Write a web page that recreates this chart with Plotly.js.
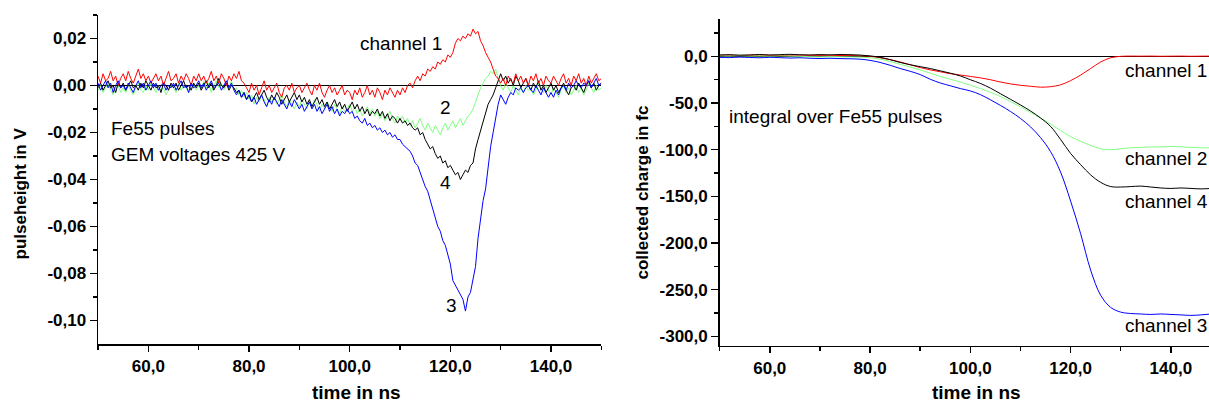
<!DOCTYPE html>
<html>
<head>
<meta charset="utf-8">
<script src="https://cdn.plot.ly/plotly-3.0.1.min.js"></script>
<style>
html,body{margin:0;padding:0;overflow:hidden;background:#fff;}
#chart{width:1221px;height:405px;}
</style>
</head>
<body>
<div id="chart"></div>
<script>
// ---------- Left panel: pulse height (V) vs time (ns), 0.5 ns sampling ----------
const timeLeft = [50,50.5,51,51.5,52,52.5,53,53.5,54,54.5,55,55.5,56,56.5,57,57.5,58,58.5,59,59.5,
  60,60.5,61,61.5,62,62.5,63,63.5,64,64.5,65,65.5,66,66.5,67,67.5,68,68.5,69,69.5,
  70,70.5,71,71.5,72,72.5,73,73.5,74,74.5,75,75.5,76,76.5,77,77.5,78,78.5,79,79.5,
  80,80.5,81,81.5,82,82.5,83,83.5,84,84.5,85,85.5,86,86.5,87,87.5,88,88.5,89,89.5,
  90,90.5,91,91.5,92,92.5,93,93.5,94,94.5,95,95.5,96,96.5,97,97.5,98,98.5,99,99.5,
  100,100.5,101,101.5,102,102.5,103,103.5,104,104.5,105,105.5,106,106.5,107,107.5,108,108.5,109,109.5,
  110,110.5,111,111.5,112,112.5,113,113.5,114,114.5,115,115.5,116,116.5,117,117.5,118,118.5,119,119.5,
  120,120.5,121,121.5,122,122.5,123,123.5,124,124.5,125,125.5,126,126.5,127,127.5,128,128.5,129,129.5,
  130,130.5,131,131.5,132,132.5,133,133.5,134,134.5,135,135.5,136,136.5,137,137.5,138,138.5,139,139.5,
  140,140.5,141,141.5,142,142.5,143,143.5,144,144.5,145,145.5,146,146.5,147,147.5,148,148.5,149,149.5,
  150];

const pulseCh1 = [
  0.004,0.001,0.005,0.002,0.003,0.006,0.002,0.004,0.000,0.003,
  0.005,0.002,0.006,0.003,0.001,0.004,0.007,0.003,0.005,0.002,
  0.004,0.001,0.003,0.005,0.002,0.004,0.000,0.003,0.006,0.002,
  0.003,0.005,0.001,0.004,0.002,0.005,0.003,0.000,0.004,0.002,
  0.005,0.002,0.004,0.001,0.003,0.006,0.002,0.004,0.001,0.005,
  0.003,0.000,0.004,0.002,0.005,0.003,0.006,0.002,0.001,-0.001,
  -0.003,0.001,-0.002,0.000,-0.004,-0.001,0.002,-0.002,0.000,-0.003,
  -0.001,0.001,-0.003,-0.005,-0.001,0.000,-0.002,0.001,-0.003,-0.001,
  0.000,-0.003,-0.001,0.001,-0.002,-0.004,0.000,-0.002,0.001,-0.003,
  -0.005,-0.002,0.000,-0.003,-0.001,-0.004,-0.002,0.000,-0.004,-0.002,
  -0.003,-0.006,-0.002,-0.004,-0.001,-0.005,-0.003,0.000,-0.004,-0.002,
  -0.005,-0.001,-0.003,-0.006,-0.002,-0.004,-0.001,-0.003,-0.005,-0.002,
  -0.004,-0.001,-0.003,0.000,0.001,-0.001,0.002,0.004,0.002,0.005,
  0.004,0.007,0.006,0.008,0.007,0.010,0.009,0.011,0.010,0.013,
  0.012,0.014,0.018,0.020,0.019,0.021,0.020,0.022,0.021,0.024,
  0.022,0.023,0.019,0.017,0.014,0.012,0.010,0.007,0.004,0.003,
  0.001,0.003,0.000,0.004,0.002,0.001,0.005,0.002,0.004,0.001,
  0.003,0.000,0.004,0.002,0.005,0.001,0.003,0.000,0.004,0.002,
  0.001,0.004,0.002,0.000,0.003,0.005,0.001,0.003,0.000,0.004,
  0.002,0.005,0.001,0.003,0.000,0.004,0.001,0.003,0.005,0.002,
  0.003];

const pulseCh2 = [
  -0.002,0.000,-0.003,-0.001,0.001,-0.002,-0.004,-0.001,0.000,-0.003,
  -0.001,-0.003,0.000,-0.002,-0.004,-0.001,0.001,-0.002,-0.003,0.000,
  -0.002,0.001,-0.001,-0.003,0.000,-0.002,-0.001,-0.004,-0.002,0.000,
  -0.001,-0.003,0.001,-0.002,0.000,-0.001,-0.003,-0.001,0.001,-0.002,
  0.000,-0.002,0.002,-0.001,0.001,-0.003,0.000,0.002,-0.001,0.001,
  -0.002,0.000,-0.001,0.002,-0.002,-0.001,-0.004,-0.002,-0.005,-0.003,
  -0.006,-0.004,-0.008,-0.005,-0.007,-0.004,-0.006,-0.009,-0.005,-0.007,
  -0.005,-0.008,-0.006,-0.004,-0.007,-0.009,-0.006,-0.008,-0.010,-0.007,
  -0.009,-0.006,-0.008,-0.010,-0.007,-0.009,-0.006,-0.008,-0.011,-0.008,
  -0.010,-0.007,-0.009,-0.011,-0.008,-0.010,-0.012,-0.009,-0.011,-0.010,
  -0.008,-0.011,-0.009,-0.012,-0.010,-0.013,-0.011,-0.009,-0.012,-0.010,
  -0.013,-0.011,-0.014,-0.012,-0.015,-0.013,-0.011,-0.014,-0.016,-0.013,
  -0.015,-0.013,-0.016,-0.014,-0.017,-0.015,-0.018,-0.016,-0.014,-0.017,
  -0.019,-0.016,-0.018,-0.020,-0.017,-0.019,-0.021,-0.018,-0.016,-0.019,
  -0.017,-0.015,-0.018,-0.016,-0.014,-0.017,-0.015,-0.013,-0.012,-0.010,
  -0.007,-0.004,-0.001,0.001,0.003,0.004,0.006,0.005,0.007,0.003,
  0.000,-0.002,0.001,-0.001,-0.003,0.000,-0.002,-0.004,-0.001,-0.003,
  0.000,-0.002,-0.001,-0.004,-0.002,0.001,-0.001,-0.003,0.000,-0.002,
  -0.004,-0.001,-0.003,-0.005,-0.002,0.000,-0.003,-0.001,-0.004,-0.002,
  0.000,-0.003,-0.001,-0.004,-0.002,0.001,-0.001,-0.003,0.000,-0.002,
  -0.001];

const pulseCh3 = [
  0.001,-0.002,0.000,0.002,-0.001,0.001,-0.003,0.000,0.002,-0.001,
  0.000,-0.002,0.001,-0.001,-0.003,0.000,0.002,-0.001,0.001,-0.002,
  0.000,0.002,-0.001,0.001,-0.002,0.000,0.001,-0.002,0.000,-0.001,
  0.001,-0.002,0.000,0.002,-0.001,0.000,-0.003,0.001,-0.001,0.000,
  0.002,-0.001,0.001,-0.002,0.000,0.002,-0.001,0.000,0.001,-0.002,
  0.000,0.002,-0.001,0.001,-0.002,-0.004,-0.002,-0.005,-0.003,-0.006,
  -0.004,-0.007,-0.005,-0.008,-0.006,-0.004,-0.007,-0.009,-0.006,-0.008,
  -0.005,-0.007,-0.009,-0.006,-0.008,-0.010,-0.007,-0.009,-0.006,-0.008,
  -0.010,-0.008,-0.011,-0.009,-0.007,-0.010,-0.008,-0.011,-0.009,-0.012,
  -0.010,-0.008,-0.011,-0.009,-0.012,-0.010,-0.013,-0.011,-0.012,-0.010,
  -0.012,-0.011,-0.014,-0.013,-0.015,-0.016,-0.014,-0.017,-0.016,-0.018,
  -0.017,-0.019,-0.018,-0.020,-0.019,-0.021,-0.020,-0.022,-0.021,-0.023,
  -0.023,-0.025,-0.026,-0.027,-0.028,-0.030,-0.033,-0.034,-0.037,-0.040,
  -0.043,-0.045,-0.049,-0.052,-0.056,-0.060,-0.062,-0.066,-0.068,-0.072,
  -0.076,-0.083,-0.085,-0.087,-0.089,-0.091,-0.096,-0.090,-0.088,-0.082,
  -0.077,-0.065,-0.057,-0.049,-0.044,-0.034,-0.026,-0.020,-0.013,-0.008,
  -0.004,-0.006,-0.008,-0.005,-0.003,-0.004,-0.001,-0.002,-0.001,-0.003,
  -0.001,0.000,-0.002,-0.003,0.000,-0.002,-0.004,-0.001,-0.003,-0.005,
  -0.003,-0.005,-0.002,-0.004,-0.001,0.000,-0.002,0.001,-0.001,0.000,
  0.002,0.000,-0.001,0.001,0.000,0.002,-0.001,0.001,0.003,0.000,
  0.001];

const pulseCh4 = [
  -0.001,0.001,-0.002,0.000,0.002,-0.001,0.000,-0.003,0.001,-0.001,
  0.001,-0.002,0.000,0.002,-0.001,0.000,-0.002,0.001,-0.001,0.002,
  0.000,-0.002,0.001,-0.001,0.000,-0.003,0.001,0.000,-0.002,0.001,
  -0.001,0.001,-0.002,0.000,0.002,-0.001,0.000,-0.002,0.001,-0.001,
  0.001,-0.002,0.000,0.002,-0.001,0.001,-0.002,0.000,0.003,0.000,
  -0.001,0.001,-0.002,0.000,-0.001,-0.003,-0.002,-0.005,-0.003,-0.006,
  -0.004,-0.007,-0.005,-0.003,-0.006,-0.004,-0.002,-0.005,-0.007,-0.004,
  -0.006,-0.003,-0.005,-0.008,-0.006,-0.004,-0.007,-0.005,-0.003,-0.006,
  -0.004,-0.007,-0.005,-0.008,-0.006,-0.009,-0.007,-0.005,-0.008,-0.006,
  -0.009,-0.007,-0.010,-0.008,-0.006,-0.009,-0.007,-0.010,-0.008,-0.011,
  -0.009,-0.007,-0.010,-0.008,-0.011,-0.009,-0.012,-0.010,-0.013,-0.011,
  -0.012,-0.010,-0.013,-0.011,-0.014,-0.012,-0.015,-0.013,-0.014,-0.016,
  -0.014,-0.016,-0.015,-0.017,-0.016,-0.018,-0.019,-0.018,-0.021,-0.020,
  -0.023,-0.025,-0.027,-0.026,-0.029,-0.031,-0.030,-0.033,-0.032,-0.035,
  -0.034,-0.036,-0.038,-0.037,-0.040,-0.038,-0.036,-0.037,-0.034,-0.033,
  -0.027,-0.023,-0.019,-0.015,-0.012,-0.008,-0.006,-0.004,-0.001,0.002,
  0.005,0.002,0.004,0.001,0.003,0.000,0.004,0.002,-0.001,0.001,
  0.003,0.000,-0.002,0.001,-0.001,0.002,-0.002,0.000,-0.003,-0.001,
  0.001,-0.002,0.000,-0.003,-0.001,0.001,-0.002,-0.004,-0.001,0.000,
  -0.002,0.001,-0.001,-0.003,0.000,0.002,-0.001,0.001,-0.002,0.000,
  0.001];

// ---------- Right panel: collected charge (fC) vs time (ns) ----------
const timeRight = [50,52,54,56,58,60,62,64,66,68,70,72,74,76,78,80,82,84,86,88,90,92,94,96,98,100,102,104,106,108,110,112,114,116,118,120,122,124,126,128,130,132,134,136,138,140,142,144,146,148,150];

const chargeCh1 = [1.0,1.2,0.8,1.0,1.3,1.1,0.9,1.2,1.4,1.1,1.0,1.2,0.9,1.0,0.6,0.0,-1.5,-3.5,-6,-9,-12,-14.5,-16.5,-18.5,-20,-21.5,-23,-25,-27.5,-29.5,-31,-32,-33,-32.5,-30.5,-26,-20,-13,-6,-1.5,0,0.3,0.2,0.3,0.1,0.2,0.3,0.1,0.2,0.3,0.2];
const chargeCh2 = [0.5,0.3,0.6,0.2,0.4,0.1,0.5,0.3,0.0,-0.3,-0.5,-0.2,-0.4,-0.6,-0.8,-1.5,-3,-5.5,-8.5,-11.5,-14.5,-18,-21.5,-24.5,-27.5,-31,-34.5,-38.5,-43,-48.5,-54,-60,-66,-72.5,-79.5,-86,-91,-95.5,-99,-100,-99,-98,-97.5,-97,-97,-96.5,-97,-97.5,-98,-98,-97.5];
const chargeCh3 = [-1.0,-1.3,-0.8,-1.2,-1.5,-1.0,-1.4,-1.8,-1.5,-2.0,-2.3,-2.0,-2.4,-2.6,-3.0,-4.3,-6.5,-9.5,-13,-16,-19.5,-24.5,-28.5,-31.5,-34.5,-37,-41,-46.5,-52.5,-59,-66.5,-75.5,-87,-102,-124,-155,-190,-229,-256,-269,-274,-275.5,-276,-276.5,-276,-276.5,-277,-277.5,-277,-276,-275];
const chargeCh4 = [1.5,1.8,1.3,1.6,2.0,1.5,1.8,2.2,1.7,1.5,1.9,1.6,2.0,1.8,1.4,0.5,-1.0,-3.5,-6.5,-9,-11,-13,-15.5,-18,-21,-25,-29,-34,-40,-46,-52,-58.5,-66,-75,-89,-104,-116,-127,-135,-139.5,-140,-139.5,-139,-140,-141,-141.5,-141,-141.5,-142,-141.5,-141];

// ---------- Tick labels ----------
const xTickVals = [60,80,100,120,140];
const xTickText = ['60,0','80,0','100,0','120,0','140,0'];
const xMinorVals = [50,70,90,110,130,150];
const yLeftTickVals = [0.02,0,-0.02,-0.04,-0.06,-0.08,-0.10];
const yLeftTickText = ['0,02','0,00','-0,02','-0,04','-0,06','-0,08','-0,10'];
const yLeftMinorVals = [0.03,0.01,-0.01,-0.03,-0.05,-0.07,-0.09];
const yRightTickVals = [0,-50,-100,-150,-200,-250,-300];
const yRightTickText = ['0,0','-50,0','-100,0','-150,0','-200,0','-250,0','-300,0'];
const yRightMinorVals = [25,-25,-75,-125,-175,-225,-275];

const colors = {ch1:'#ff0000', ch2:'#80ff80', ch3:'#0000ff', ch4:'#000000'};
const FONT = 'Liberation Sans, Arial, Helvetica, sans-serif';

function tr(x, y, color, xa, ya, shape) {
  return {x:x, y:y, type:'scatter', mode:'lines', xaxis:xa, yaxis:ya,
          line:{color:color, width:1, shape:shape||'linear'}, hoverinfo:'skip'};
}

const data = [
  tr(timeLeft, pulseCh2, colors.ch2, 'x', 'y'),
  tr(timeLeft, pulseCh4, colors.ch4, 'x', 'y'),
  tr(timeLeft, pulseCh1, colors.ch1, 'x', 'y'),
  tr(timeLeft, pulseCh3, colors.ch3, 'x', 'y'),
  tr(timeRight, chargeCh1, colors.ch1, 'x2', 'y2', 'spline'),
  tr(timeRight, chargeCh2, colors.ch2, 'x2', 'y2', 'spline'),
  tr(timeRight, chargeCh4, colors.ch4, 'x2', 'y2', 'spline'),
  tr(timeRight, chargeCh3, colors.ch3, 'x2', 'y2', 'spline')
];

const tickFont = {family:FONT, size:17, weight:'bold', color:'#000'};

function xAxis(domain, anchor) {
  return {domain:domain, anchor:anchor, range:[50,150], showgrid:false, zeroline:false,
    showline:true, linecolor:'#000', linewidth:1.5,
    ticks:'outside', ticklen:6, tickwidth:1.5, tickcolor:'#000',
    tickmode:'array', tickvals:xTickVals, ticktext:xTickText, tickfont:tickFont,
    minor:{tickmode:'array', tickvals:xMinorVals, ticks:'outside', ticklen:4, tickwidth:1.5, tickcolor:'#000', showgrid:false}};
}
function yAxis(domain, anchor, range, tv, tt, mv) {
  return {domain:domain, anchor:anchor, range:range, showgrid:false,
    zeroline:true, zerolinecolor:'#000', zerolinewidth:1.5,
    showline:true, linecolor:'#000', linewidth:1.5,
    ticks:'outside', ticklen:7, tickwidth:1.5, tickcolor:'#000',
    tickmode:'array', tickvals:tv, ticktext:tt, tickfont:tickFont,
    minor:{tickmode:'array', tickvals:mv, ticks:'outside', ticklen:4, tickwidth:1.5, tickcolor:'#000', showgrid:false}};
}

const annFont = {family:FONT, size:19, color:'#000'};
function ann(text, x, y, xref, yref, xanchor) {
  return {text:text, x:x, y:y, xref:xref, yref:yref, showarrow:false, borderpad:0,
          xanchor:xanchor||'center', yanchor:'middle', font:annFont};
}
function axisTitle(text, x, y, size, angle) {
  return {text:text, x:x, y:y, xref:'paper', yref:'paper', showarrow:false,
          xanchor:'center', yanchor:'middle', textangle:angle||0, borderpad:0,
          font:{family:FONT, size:size, weight:'bold', color:'#000'}};
}

const layout = {
  width:1221, height:405,
  margin:{l:0, r:0, t:0, b:0},
  paper_bgcolor:'#fff', plot_bgcolor:'#fff',
  showlegend:false,
  xaxis: xAxis([0.0803, 0.4925], 'y'),
  yaxis: yAxis([0.1506, 0.963], 'x', [-0.11, 0.03], yLeftTickVals, yLeftTickText, yLeftMinorVals),
  xaxis2: xAxis([0.5894, 1.0], 'y2'),
  yaxis2: yAxis([0.1464, 0.953], 'x2', [-310, 40], yRightTickVals, yRightTickText, yRightMinorVals),
  annotations: [
    axisTitle('time in ns', 0.292, 0.0305, 19),
    axisTitle('time in ns', 0.7994, 0.0305, 19),
    axisTitle('pulseheight in V', 0.0168, 0.521, 17, -90),
    axisTitle('collected charge in fc', 0.5258, 0.5247, 17, -90),
    ann('channel 1', 110.2, 0.0178, 'x', 'y'),
    ann('2', 119.0, -0.0093, 'x', 'y'),
    ann('4', 119.0, -0.0413, 'x', 'y'),
    ann('3', 120.3, -0.0935, 'x', 'y'),
    ann('Fe55 pulses', 52.3, -0.0185, 'x', 'y', 'left'),
    ann('GEM voltages 425 V', 52.3, -0.0295, 'x', 'y', 'left'),
    ann('integral over Fe55 pulses', 51.7, -64, 'x2', 'y2', 'left'),
    ann('channel 1', 130.6, -15, 'x2', 'y2', 'left'),
    ann('channel 2', 130.6, -109, 'x2', 'y2', 'left'),
    ann('channel 4', 130.6, -155, 'x2', 'y2', 'left'),
    ann('channel 3', 130.6, -288, 'x2', 'y2', 'left')
  ]
};

Plotly.newPlot('chart', data, layout, {staticPlot:true, displayModeBar:false});
</script>
</body>
</html>
